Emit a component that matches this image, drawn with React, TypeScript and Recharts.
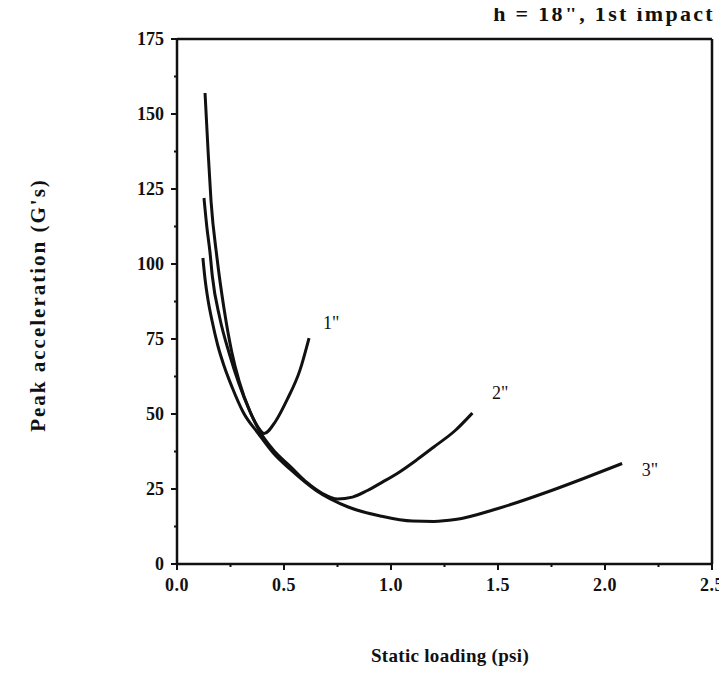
import React from "react";
import {
  LineChart,
  Line,
  XAxis,
  YAxis,
  ReferenceLine,
  ReferenceDot,
} from "recharts";

// curve for 1" cushion thickness
const ONE_X = [0.131, 0.145, 0.159, 0.187, 0.22, 0.255, 0.29, 0.34, 0.38, 0.407, 0.46, 0.514, 0.575, 0.617];
const ONE_Y = [157, 138, 121, 102, 85, 71, 61, 51, 45.5, 43.5, 47.5, 54.7, 64.7, 75.3];

// 2" cushion
const TWO_X = [0.126, 0.14, 0.154, 0.165, 0.2, 0.245, 0.29, 0.34, 0.38, 0.45, 0.53, 0.61, 0.68, 0.75, 0.82, 0.89, 0.96, 1.04, 1.12, 1.2, 1.3, 1.38];
const TWO_Y = [122, 112, 104, 96, 82, 70, 60, 51, 45, 38, 32.5, 27, 23.5, 21.7, 22.3, 24.5, 27.3, 30.7, 34.7, 39, 44.5, 50.3];

// 3" cushion
const THREE_X = [0.121, 0.131, 0.145, 0.164, 0.19, 0.22, 0.257, 0.31, 0.38, 0.45, 0.53, 0.65, 0.8, 0.95, 1.1, 1.2, 1.3, 1.5, 1.75, 1.9, 2.08];
const THREE_Y = [102, 95, 88, 81, 73, 66, 59, 50.5, 43.5, 37, 31.5, 24.5, 19, 16, 14.3, 14.2, 14.8, 18.5, 24.5, 28.5, 33.5];

const X_TICKS = [0, 0.25, 0.5, 0.75, 1, 1.25, 1.5, 1.75, 2, 2.25, 2.5];
const X_MAJOR = [0, 0.5, 1, 1.5, 2, 2.5];
const Y_TICKS = [0, 12.5, 25, 37.5, 50, 62.5, 75, 87.5, 100, 112.5, 125, 137.5, 150, 162.5, 175];
const Y_MAJOR = [0, 25, 50, 75, 100, 125, 150, 175];

const CURVE_LABELS = [
  { x: 0.72, y: 80.5, text: '1"' },
  { x: 1.51, y: 57, text: '2"' },
  { x: 2.21, y: 31.5, text: '3"' },
];

const zip = (xs: number[], ys: number[]) => xs.map((x, i) => ({ x, y: ys[i] }));

const FONT = "'Liberation Serif', 'DejaVu Serif', serif";
const INK = "#111";

const XTick = (props: any) => {
  const { x, y, payload } = props;
  const major = X_MAJOR.includes(payload.value);
  return (
    <g>
      <line x1={x} x2={x} y1={y} y2={y + (major ? 6 : 3)} stroke={INK} strokeWidth={2} />
      {major && (
        <text x={x} y={y + 27} textAnchor="middle" fontSize={18} fontWeight="bold" fontFamily={FONT} fill={INK} letterSpacing={0.5}>
          {payload.value.toFixed(1)}
        </text>
      )}
    </g>
  );
};

const YTick = (props: any) => {
  const { x, y, payload } = props;
  const major = Y_MAJOR.includes(payload.value);
  return (
    <g>
      <line x1={x - (major ? 6 : 3)} x2={x} y1={y} y2={y} stroke={INK} strokeWidth={2} />
      {major && (
        <text x={x - 13} y={y + 6} textAnchor="end" fontSize={18} fontWeight="bold" fontFamily={FONT} fill={INK}>
          {payload.value}
        </text>
      )}
    </g>
  );
};

export default function App() {
  return (
    <div style={{ position: "relative", width: 727, height: 674, margin: -8, background: "#fff", fontFamily: FONT }}>
      <LineChart
        width={727}
        height={674}
        margin={{ top: 39, right: 15, bottom: 80, left: 117 }}
        style={{ overflow: "visible" }}
      >
        <XAxis
          type="number"
          dataKey="x"
          domain={[0, 2.5]}
          ticks={X_TICKS}
          interval={0}
          tickSize={0}
          tickMargin={0}
          tickLine={false}
          tick={<XTick />}
          axisLine={{ stroke: INK, strokeWidth: 2.5 }}
          height={30}
        />
        <YAxis
          type="number"
          domain={[0, 175]}
          ticks={Y_TICKS}
          interval={0}
          tickSize={0}
          tickMargin={0}
          tickLine={false}
          tick={<YTick />}
          axisLine={{ stroke: INK, strokeWidth: 2.5 }}
          width={60}
        />
        <ReferenceLine y={175} stroke={INK} strokeWidth={2.5} />
        <ReferenceLine x={2.5} stroke={INK} strokeWidth={2.5} />
        <Line data={zip(ONE_X, ONE_Y)} dataKey="y" type="monotone" stroke={INK} strokeWidth={3} dot={false} isAnimationActive={false} />
        <Line data={zip(TWO_X, TWO_Y)} dataKey="y" type="monotone" stroke={INK} strokeWidth={3} dot={false} isAnimationActive={false} />
        <Line data={zip(THREE_X, THREE_Y)} dataKey="y" type="monotone" stroke={INK} strokeWidth={3} dot={false} isAnimationActive={false} />
        {CURVE_LABELS.map((l) => (
          <ReferenceDot
            key={l.text}
            x={l.x}
            y={l.y}
            r={0}
            fill="none"
            stroke="none"
            label={{ value: l.text, fill: INK, fontSize: 18, fontFamily: FONT, position: "center" }}
          />
        ))}
      </LineChart>
      <div
        style={{
          position: "absolute",
          right: 12,
          top: 2,
          lineHeight: "24px",
          fontSize: 22,
          fontWeight: "bold",
          color: INK,
          whiteSpace: "nowrap",
          letterSpacing: 2.3,
        }}
      >
        h = 18", 1st impact
      </div>
      <div
        style={{
          position: "absolute",
          left: 38,
          top: 305,
          lineHeight: "24px",
          transform: "translate(-50%, -50%) rotate(-90deg)",
          fontSize: 21,
          fontWeight: "bold",
          color: INK,
          whiteSpace: "nowrap",
          letterSpacing: 2,
        }}
      >
        Peak acceleration (G's)
      </div>
      <div
        style={{
          position: "absolute",
          left: 450,
          top: 646,
          lineHeight: "20px",
          transform: "translateX(-50%)",
          fontSize: 19,
          fontWeight: "bold",
          color: INK,
          whiteSpace: "nowrap",
          letterSpacing: 0.3,
        }}
      >
        Static loading (psi)
      </div>
    </div>
  );
}
